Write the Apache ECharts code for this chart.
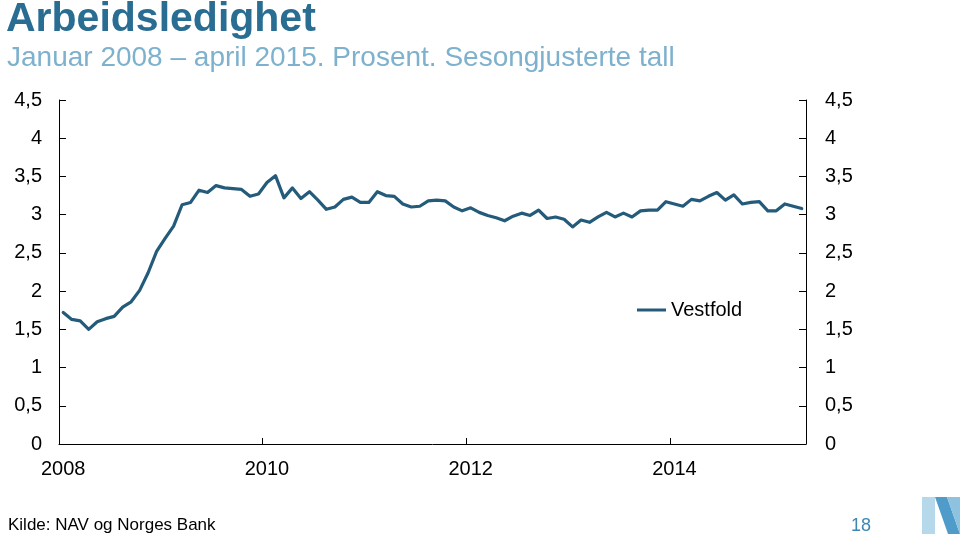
<!DOCTYPE html>
<html>
<head>
<meta charset="utf-8">
<script src="https://cdn.jsdelivr.net/npm/echarts@6/dist/echarts.min.js"></script>
<style>
html,body{margin:0;padding:0;background:#fff;}
#c{width:960px;height:534px;}
</style>
</head>
<body>
<div id="c"></div>
<script>
// Months Jan 2008 - Apr 2015
var years = [2008, 2009, 2010, 2011, 2012, 2013, 2014, 2015];
var categories = [];
years.forEach(function (y) {
  for (var m = 1; m <= 12; m++) {
    if (y === 2015 && m > 4) break;
    categories.push(y + '-' + (m < 10 ? '0' + m : m));
  }
});
var seriesName = 'Vestfold';
var vestfold = [
  1.72, 1.63, 1.61, 1.50, 1.60, 1.64, 1.67, 1.79, 1.86, 2.01, 2.24, 2.52,
  2.69, 2.85, 3.13, 3.16, 3.32, 3.29, 3.38, 3.35, 3.34, 3.33, 3.24, 3.27,
  3.42, 3.51, 3.22, 3.35, 3.21, 3.30, 3.19, 3.07, 3.10, 3.20, 3.23, 3.16,
  3.16, 3.30, 3.25, 3.24, 3.14, 3.10, 3.11, 3.18, 3.19, 3.18, 3.10, 3.05,
  3.09, 3.03, 2.99, 2.96, 2.92, 2.98, 3.02, 2.99, 3.06, 2.95, 2.97, 2.94,
  2.84, 2.93, 2.90, 2.97, 3.03, 2.97, 3.02, 2.97, 3.05, 3.06, 3.06, 3.17,
  3.14, 3.11, 3.20, 3.18, 3.24, 3.29, 3.19, 3.26, 3.14, 3.16, 3.17, 3.05,
  3.05, 3.14, 3.11, 3.08
];
var titleText = 'Arbeidsledighet';
var subtitleText = 'Januar 2008 \u2013 april 2015. Prosent. Sesongjusterte tall';
var sourceText = 'Kilde: NAV og Norges Bank';
var pageNumber = '18';

var font = '"Liberation Sans", Arial, sans-serif';
var chart = echarts.init(document.getElementById('c'), null, {renderer: 'canvas'});

function yFmt(v) { return String(v).replace('.', ','); }

var yAxisBase = {
  type: 'value', min: 0, max: 4.5, interval: 0.5,
  splitLine: {show: false},
  axisLine: {show: true, lineStyle: {color: '#000', width: 1}},
  axisTick: {show: true, inside: true, length: 7, lineStyle: {color: '#000'}},
  axisLabel: {formatter: yFmt, color: '#000', fontSize: 20, fontFamily: font}
};

chart.setOption({
  animation: false,
  backgroundColor: '#fff',
  title: [
    {text: titleText, left: 1, top: -6, textStyle: {fontFamily: font, fontSize: 41, fontWeight: 'bold', color: '#2a6d93'}},
    {text: subtitleText, left: 2, top: 39, textStyle: {fontFamily: font, fontSize: 28, fontWeight: 'normal', color: '#7db1cd'}},
    {text: sourceText, left: 3, top: 512, textStyle: {fontFamily: font, fontSize: 17, fontWeight: 'normal', color: '#000'}},
    {text: pageNumber, left: 846, top: 512, textStyle: {fontFamily: font, fontSize: 18, fontWeight: 'normal', color: '#3d88b3'}}
  ],
  legend: {
    data: [{name: seriesName, icon: 'rect'}], left: 632, top: 295,
    itemWidth: 29, itemHeight: 3, itemGap: 4,
    textStyle: {fontFamily: font, fontSize: 20, color: '#000', padding: [0, 0, 0, 0]}
  },
  grid: {left: 59, right: 154, top: 100, bottom: 90, containLabel: false},
  xAxis: {
    type: 'category', data: categories, boundaryGap: true,
    axisLine: {show: true, lineStyle: {color: '#000', width: 1}},
    axisTick: {show: true, inside: true, length: 6, interval: 23, alignWithLabel: false, lineStyle: {color: '#000'}},
    axisLabel: {interval: 23, margin: 15, color: '#000', fontSize: 20, fontFamily: font,
      formatter: function (v) { return v.slice(0, 4); }},
    splitLine: {show: false}
  },
  yAxis: [
    echarts.util.merge({position: 'left', axisLabel: {margin: 17}}, yAxisBase),
    echarts.util.merge({position: 'right', axisLabel: {margin: 19}}, yAxisBase)
  ],
  series: [{
    name: seriesName, type: 'line', data: vestfold, yAxisIndex: 0,
    symbol: 'none', smooth: false,
    lineStyle: {color: '#245b7a', width: 3.2, join: 'round', cap: 'round'},
    itemStyle: {color: '#245b7a'}
  }],
  graphic: [
    {type: 'polygon', shape: {points: [[922, 497], [935, 497], [935, 534], [922, 534]]}, style: {fill: '#b5d8ea'}},
    {type: 'polygon', shape: {points: [[935, 497], [947, 497], [960, 534], [948, 534]]}, style: {fill: '#4f9ccb'}},
    {type: 'polygon', shape: {points: [[947, 497], [960, 497], [960, 534]]}, style: {fill: '#8ec3e0'}}
  ]
});
</script>
</body>
</html>
